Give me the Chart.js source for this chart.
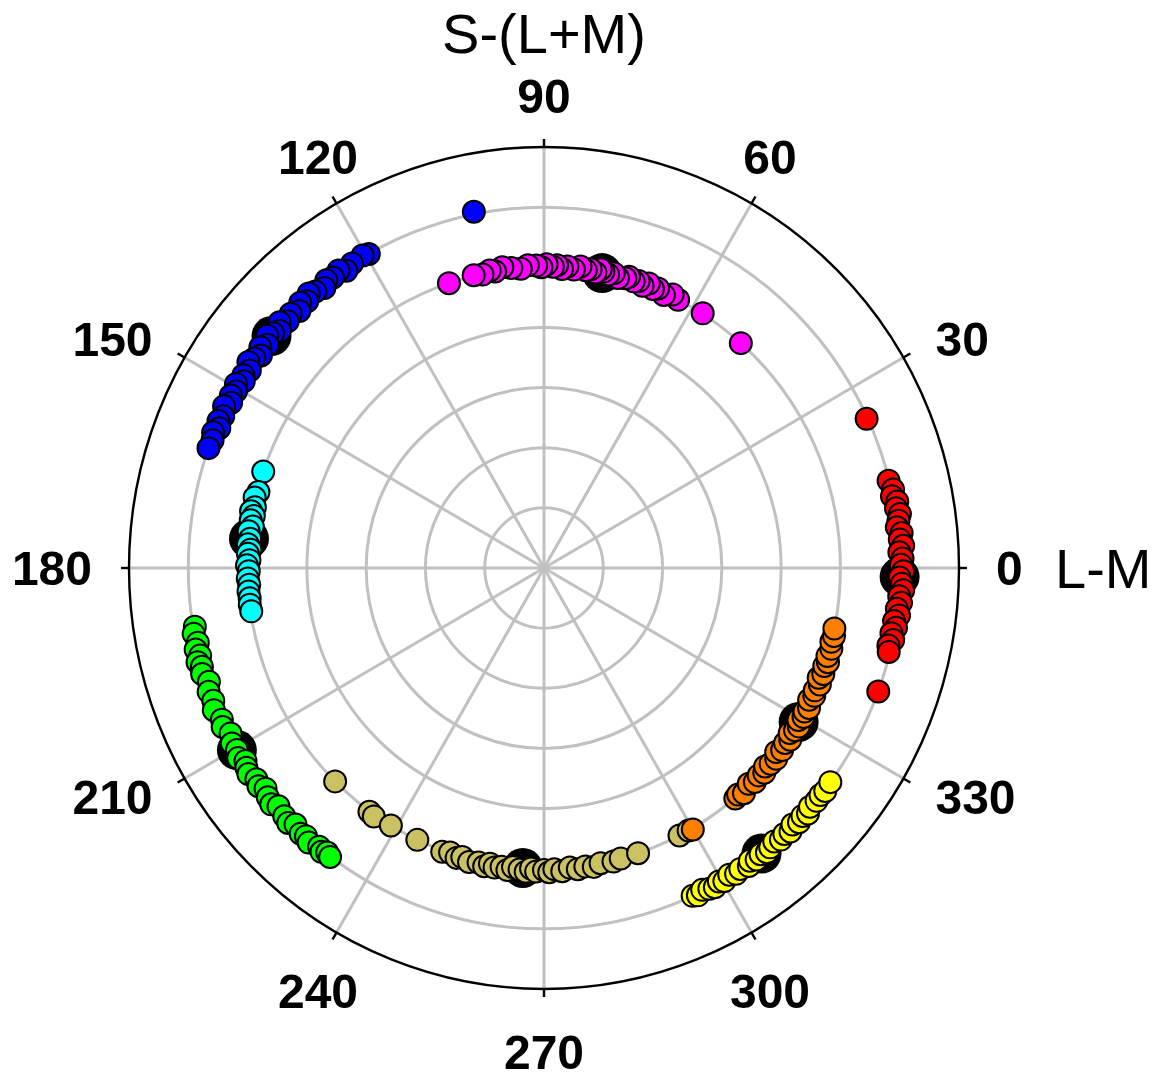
<!DOCTYPE html>
<html>
<head>
<meta charset="utf-8">
<title>DKL polar plot</title>
<script src="https://cdn.jsdelivr.net/npm/chart.js@4.4.1/dist/chart.umd.min.js"></script>
<style>
  html, body { margin: 0; padding: 0; background: #ffffff; }
  canvas { display: block; }
</style>
</head>
<body>
<canvas id="polar" width="1155" height="1076"></canvas>
<script>
// Each point: [angle in degrees, radius in ring units]
const redPoints = [[24.5,5.98],[14,5.99],[12.5,6.03],[11.5,5.99],[10.5,6.06],[9.5,6.02],[8.5,6.07],[7.5,6.03],[6.5,5.99],[5.5,6.06],[4.5,6.02],[3.5,6.07],[2.5,6.0],[1.5,6.05],[0.5,6.02],[359.5,6.06],[358.5,6.0],[357.5,6.04],[356.5,6.07],[355.5,6.01],[354.5,6.05],[353.5,5.99],[352.5,6.04],[351.5,5.97],[350.5,6.02],[349.5,5.96],[348.5,6.01],[347.5,5.95],[346.5,5.98],[340,6.0]];
const magentaPoints = [[48.4,5.0],[57.7,5.01],[63.1,5.0],[64.5,5.04],[66,4.97],[67.5,5.03],[68.4,4.99],[69.5,5.05],[70.5,4.98],[71.5,5.03],[72.4,5.0],[73.5,5.05],[74.1,5.01],[75.5,4.98],[76.5,5.04],[77.5,5.0],[78.5,5.03],[79.1,5.06],[80,4.99],[81,5.03],[81.9,5.0],[83,5.05],[84.2,4.99],[85.5,5.03],[86.5,4.98],[87.5,5.04],[88.3,5.01],[89.5,5.05],[90.5,5.0],[91.5,5.03],[93.1,5.04],[94.5,4.99],[96.3,5.02],[98,5.05],[99.5,5.0],[100.5,5.03],[102,4.99],[103.7,5.01],[108.7,5.0]];
const bluePoints = [[101.3,6.04],[119.5,6.0],[120.5,6.03],[122.6,6.01],[124,5.96],[125,6.04],[126.4,6.0],[127.5,6.03],[128.5,5.95],[130,6.0],[131,6.05],[132,5.97],[133,6.03],[134,5.94],[135.3,6.01],[136.5,5.96],[137.5,6.05],[138.5,5.95],[139.5,6.01],[140.4,6.06],[141.5,5.96],[142.5,6.03],[143.5,5.94],[144.5,6.0],[145.5,6.05],[146.5,5.95],[147.7,6.0],[148.5,5.94],[149.5,6.03],[150.5,5.97],[151.5,6.01],[152.5,5.95],[153.5,6.03],[155,5.97],[156,6.01],[157,5.95],[158,6.02],[159.2,5.98],[160.6,6.0]];
const cyanPoints = [[161.3,5.0],[165.3,4.98],[166.5,5.02],[168.3,4.98],[169.2,5.03],[170,4.97],[170.9,5.01],[172,4.96],[173,5.02],[174.4,4.98],[175.5,5.01],[176.5,4.96],[177.3,5.0],[178.5,4.97],[179.5,5.01],[180.6,4.98],[182,5.0],[183.2,4.98],[184.5,5.0],[185.8,4.99],[187,5.0],[188.3,4.99]];
const greenPoints = [[189.4,5.97],[190.5,6.01],[192,5.97],[193,6.03],[194.1,5.98],[195,6.05],[195.9,6.0],[197,6.03],[198.5,5.96],[200,6.02],[201.6,6.0],[203,6.05],[204.9,5.99],[206,6.03],[207.5,5.96],[209,6.02],[210.3,6.0],[211.5,6.05],[212.5,5.97],[213.5,6.02],[214.5,6.05],[215.9,5.99],[217,6.03],[218,5.96],[219.3,6.02],[220.5,6.05],[221.5,5.98],[223.3,6.02],[224.5,6.05],[225.5,5.98],[227.1,6.03],[228,6.0],[229,6.05],[230.7,5.99],[231.5,6.03],[232.3,5.98],[233.1,6.01]];
const olivePoints = [[225.2,5.0],[234,5.01],[235.2,5.03],[238.9,5.0],[244.7,5.0],[250,5.02],[251.5,4.99],[253,5.04],[254,5.0],[255.5,5.05],[257.3,5.02],[258.5,5.06],[259.5,5.0],[260.5,5.05],[261.8,5.02],[263,5.06],[264,5.0],[265.3,5.03],[266.5,5.06],[267.5,5.0],[268.5,5.05],[270,5.02],[271,5.06],[272,5.01],[273.5,5.05],[275,5.0],[276.5,5.04],[278,5.01],[279.6,5.04],[281,5.0],[283.5,5.02],[285,5.0],[288.5,5.0],[297.2,5.0],[299.2,5.0]];
const orangePoints = [[300,5.02],[310.1,5.01],[311,4.99],[312,5.04],[313.9,4.98],[315,5.03],[316.4,5.0],[317.5,5.04],[318.5,4.98],[319.6,5.02],[321,5.04],[322,4.97],[323,5.03],[324.4,5.0],[325.5,5.04],[326.5,4.97],[327.5,5.02],[328.5,5.04],[329.5,4.98],[330.5,5.03],[331.5,5.0],[332.5,5.04],[333.9,4.98],[335,5.03],[336,5.0],[337.4,5.04],[338.5,4.98],[339.5,5.03],[341,5.0],[341.9,5.04],[343,5.0],[344.5,5.03],[345.8,5.0],[347,5.02],[348.4,5.0]];
const yellowPoints = [[294.7,6.0],[295.5,6.03],[296.5,5.98],[297.6,6.02],[298.5,6.04],[299.5,5.99],[300.3,6.03],[301.5,5.98],[302.5,6.03],[303.5,6.0],[304.9,6.04],[305.5,5.98],[306.5,6.03],[307.5,6.0],[308.5,6.04],[309.4,6.01],[310.5,5.98],[311.5,6.03],[312.5,6.0],[313.5,6.04],[314.5,5.98],[315.5,6.03],[316.6,6.0],[317.5,6.04],[318.5,5.99],[319.9,6.01],[321,6.0],[322,6.02],[323.6,6.0]];
// Cluster means (large black markers)
const meanPoints = [[358.6,6],[78.7,5],[140,6],[174.4,5],[210.3,6],[265.9,5],[329.2,5],[307.7,6]];

// Axis labels
const angleTicks = [0, 30, 60, 90, 120, 150, 180, 210, 240, 270, 300, 330];
const ringValues = [1, 2, 3, 4, 5, 6, 7];
const xAxisTitle = 'L-M';
const yAxisTitle = 'S-(L+M)';

const rad = d => d * Math.PI / 180;
const toXY = pts => pts.map(([a, r]) => ({ x: r * Math.cos(rad(a)), y: r * Math.sin(rad(a)) }));

function cluster(points, color) {
  return {
    data: toXY(points),
    backgroundColor: color,
    borderColor: '#000000',
    borderWidth: 2,
    pointRadius: 11,
    pointHoverRadius: 11
  };
}

// Polar grid, spokes, angle labels and axis titles drawn from the x/y scales
const polarFrame = {
  id: 'polarFrame',
  beforeDatasetsDraw(chart) {
    const { ctx, scales: { x, y } } = chart;
    const cx = x.getPixelForValue(0), cy = y.getPixelForValue(0);
    const ux = x.getPixelForValue(1) - cx, uy = cy - y.getPixelForValue(1);
    const rMax = ringValues[ringValues.length - 1];
    const Rx = rMax * ux, Ry = rMax * uy;
    ctx.save();
    ctx.lineCap = 'butt';
    ctx.strokeStyle = '#c0c0c0';
    ctx.lineWidth = 3;
    ringValues.slice(0, -1).forEach(r => {
      ctx.beginPath();
      ctx.ellipse(cx, cy, r * ux, r * uy, 0, 0, Math.PI * 2);
      ctx.stroke();
    });
    angleTicks.forEach(a => {
      const t = rad(a);
      ctx.beginPath();
      ctx.moveTo(cx, cy);
      ctx.lineTo(cx + Rx * Math.cos(t), cy - Ry * Math.sin(t));
      ctx.stroke();
    });
    // outer boundary and tick marks
    ctx.strokeStyle = '#000000';
    ctx.lineWidth = 2.4;
    ctx.beginPath();
    ctx.ellipse(cx, cy, Rx, Ry, 0, 0, Math.PI * 2);
    ctx.stroke();
    angleTicks.forEach(a => {
      const t = rad(a);
      ctx.beginPath();
      ctx.moveTo(cx + Rx * Math.cos(t), cy - Ry * Math.sin(t));
      ctx.lineTo(cx + (Rx + 8) * Math.cos(t), cy - (Ry + 8) * Math.sin(t));
      ctx.stroke();
    });
    // angle labels
    const fs = 48;
    const cap = 0.716 * fs;
    ctx.fillStyle = '#000000';
    ctx.font = 'bold ' + fs + 'px "Liberation Sans", Arial, sans-serif';
    ctx.textBaseline = 'alphabetic';
    angleTicks.forEach(a => {
      const t = rad(a);
      const c = Math.cos(t), s = Math.sin(t);
      const ax = cx + (Rx + 37) * c;
      const ay = cy - (Ry + 37) * s;
      let midY = ay;
      if (Math.abs(c) < 0.6) {
        ctx.textAlign = 'center';
        midY = s > 0 ? ay + 3 - cap / 2 : ay + 9 + cap / 2;
      } else {
        ctx.textAlign = c > 0 ? 'left' : 'right';
      }
      ctx.fillText(String(a), ax, midY + cap / 2);
    });
    // axis titles
    ctx.font = '56px "Liberation Sans", Arial, sans-serif';
    ctx.textAlign = 'center';
    ctx.fillText(yAxisTitle, cx, 53);
    ctx.textAlign = 'left';
    ctx.fillText(xAxisTitle, 1055, cy + 0.716 * 56 / 2);
    ctx.restore();
  }
};

new Chart(document.getElementById('polar'), {
  type: 'scatter',
  data: {
    datasets: [
      cluster(redPoints, '#ff0000'),
      cluster(magentaPoints, '#ff00ff'),
      cluster(bluePoints, '#0000ff'),
      cluster(cyanPoints, '#00ffff'),
      cluster(greenPoints, '#00ff00'),
      cluster(orangePoints, '#ff8000'),
      cluster(yellowPoints, '#ffff00'),
      cluster(olivePoints, '#c9c162'),
      {
        data: toXY(meanPoints),
        backgroundColor: '#000000',
        borderColor: '#000000',
        borderWidth: 0,
        pointRadius: 20,
        pointHoverRadius: 20
      }
    ]
  },
  options: {
    responsive: false,
    animation: false,
    events: [],
    layout: { padding: { left: 129, right: 196, top: 147, bottom: 87 } },
    scales: {
      x: { type: 'linear', min: -7, max: 7, display: false },
      y: { type: 'linear', min: -7, max: 7, display: false }
    },
    plugins: {
      legend: { display: false },
      tooltip: { enabled: false },
      title: { display: false }
    }
  },
  plugins: [polarFrame]
});
</script>
</body>
</html>
